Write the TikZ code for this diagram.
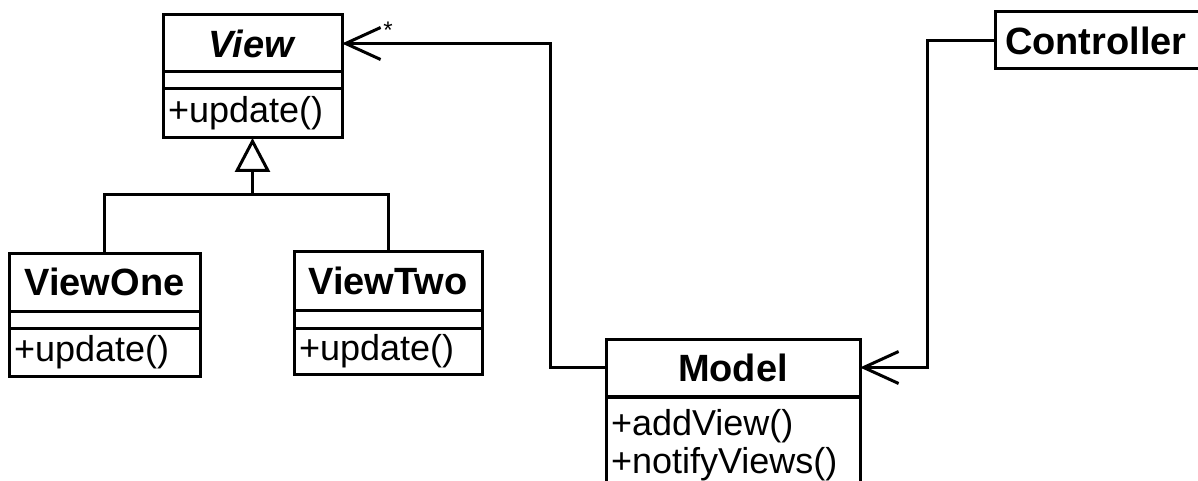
\documentclass[tikz,border=0pt]{standalone}
\usepackage{fontspec}
\setmainfont{Liberation Sans}
\usetikzlibrary{arrows.meta}
\begin{document}
\begin{tikzpicture}[x=1pt,y=-1pt,
  box/.style={draw, line width=3pt, rectangle, inner sep=0pt, outer sep=0pt, anchor=north west},
  namefont/.style={font=\fontsize{38}{40}\selectfont\bfseries},
  methfont/.style={font=\fontsize{36}{38}\selectfont, align=left},
  conn/.style={line width=3pt},
  assoc/.style={conn, -{Straight Barb[length=35pt,width=32pt,line width=3pt]}},
  gen/.style={conn, -{Triangle[open,length=34pt,width=35pt,line width=3pt,fill=white]}}]
\useasboundingbox (0,0) rectangle (1198,481);
\clip (0,0) rectangle (1198,481);
\fill[white] (0,0) rectangle (1198,481);

% View
\node[box, namefont, minimum width=179pt, minimum height=57pt] (viewname) at (163,15) {\textit{View}};
\node[box, minimum width=179pt, minimum height=17pt] (viewattr) at (viewname.south west) {};
\node[box, methfont, text width=169pt, inner xsep=5pt, minimum height=49pt] (viewmeth) at (viewattr.south west) {+update()};

% ViewOne
\node[box, namefont, minimum width=191pt, minimum height=58pt] (onename) at (9,253) {ViewOne};
\node[box, minimum width=191pt, minimum height=17pt] (oneattr) at (onename.south west) {};
\node[box, methfont, text width=181pt, inner xsep=5pt, minimum height=48pt] (onemeth) at (oneattr.south west) {+update()};

% ViewTwo
\node[box, namefont, minimum width=188pt, minimum height=59pt] (twoname) at (294,251) {ViewTwo};
\node[box, minimum width=188pt, minimum height=18pt] (twoattr) at (twoname.south west) {};
\node[box, methfont, text width=178pt, inner xsep=5pt, minimum height=46pt] (twometh) at (twoattr.south west) {+update()};

% Model
\node[box, namefont, minimum width=254pt, minimum height=57pt] (modelname) at (606,339) {Model};
\node[box, minimum width=254pt, minimum height=1.5pt] (modelattr) at (modelname.south west) {};
\node[box, methfont, text width=244pt, inner xsep=5pt, minimum height=96pt] (modelmeth) at (modelattr.south west) {+addView()\\+notifyViews()};

% Controller
\node[box, namefont, text width=230pt, align=left, inner xsep=10pt, minimum height=57pt] (ctrlname) at (995,12) {Controller};

% generalization
\coordinate (join) at (viewmeth.south |- 0,194);
\draw[conn] (onename.north) |- (join) -| (twoname.north);
\draw[gen] (join) -- (viewmeth.south);

% associations
\draw[assoc] (modelname.west) -- ++(-56,0) |- (viewname.east);
\node[font=\fontsize{24}{24}\selectfont] (mult) at (388,30) {*};
\draw[assoc] (ctrlname.west) -- ++(-68,0) |- (modelname.east);
\end{tikzpicture}
\end{document}
